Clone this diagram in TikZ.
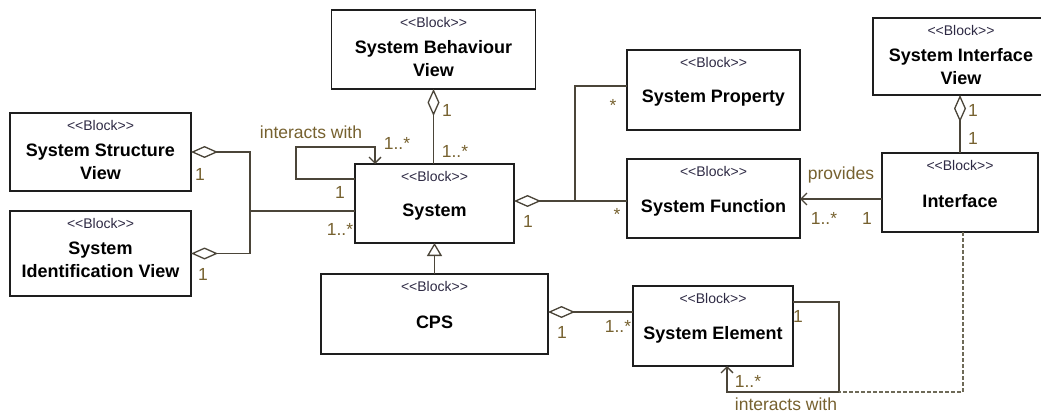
\documentclass[tikz,border=0pt]{standalone}
\usepackage{fontspec}
\setmainfont{Liberation Sans}
\usetikzlibrary{arrows.meta}
\definecolor{linec}{HTML}{4B4539}
\definecolor{dashc}{HTML}{6E6A58}
\definecolor{labc}{HTML}{76612F}
\definecolor{framec}{HTML}{1E1E1E}
\definecolor{stereoc}{HTML}{2E2A44}

\tikzset{
  blockframe/.style={draw=framec, line width=1.5pt, fill=white, inner sep=0pt, outer sep=0pt},
  stereo/.style={font=\fontsize{14}{16}\selectfont, text=stereoc, inner sep=0pt},
  blocktitle/.style={font=\bfseries\fontsize{18}{23}\selectfont, align=center, inner sep=0pt},
  lab/.style={font=\fontsize{17.5}{20}\selectfont, text=labc, inner sep=0pt, anchor=base},
  conn/.style={draw=linec, line width=1.3pt},
  agg/.style={conn, arrows={Diamond[open,length=27pt,width=12pt]-}},
  aggboth/.style={conn, arrows={Diamond[open,length=27pt,width=12pt]-Diamond[open,length=27pt,width=12pt]}},
  nav/.style={conn, arrows={-Straight Barb[length=6pt,width=12pt]}},
  gen/.style={conn, arrows={-Triangle[open,length=13pt,width=15pt]}},
  dep/.style={draw=dashc, line width=1.3pt, dash pattern=on 4pt off 2pt},
}

% name, centre, width, height, title
\newcommand\umlblock[5]{%
  \node[blockframe, minimum width=#3, minimum height=#4] (#1) at (#2) {};
  \node[stereo] (#1-st) at ([yshift=-12pt]#1.north) {<\kern0pt<Block>\kern0pt>};
  \node[blocktitle] (#1-t) at ([yshift=-48.5pt]#1.north) {#5};
}

\begin{document}
\begin{tikzpicture}[x=1pt, y=-1pt]
\useasboundingbox (0,0) rectangle (1041,414);

% blocks
\umlblock{beh}{433.5,49.5}{204pt}{79pt}{System Behaviour\\View}
\umlblock{prop}{713.5,90}{173pt}{80pt}{System Property}
\umlblock{iview}{961,56.5}{176pt}{77pt}{System Interface\\View}
\umlblock{sview}{100.5,152}{181pt}{78pt}{System Structure\\View}
\umlblock{idview}{100.5,253.5}{181pt}{85pt}{System\\Identification View}
\umlblock{sys}{434.5,203.5}{159pt}{79pt}{System}
\umlblock{func}{713.5,198.5}{173pt}{79pt}{System Function}
\umlblock{iface}{960,192.5}{156pt}{79pt}{Interface}
\umlblock{cps}{434.5,314}{227pt}{80pt}{CPS}
\umlblock{elem}{713,326}{160pt}{80pt}{System Element}

% behaviour view aggregates system
\draw[agg] (beh.south) -- (beh.south |- sys.north);

% system interacts with itself
\coordinate (sysloop) at ([yshift=-15pt]sys.north west);
\draw[nav] (sysloop) -- ++(-59,0) -- ++(0,-32) -| ([xshift=-59.5pt]sys.north);

% structure and identification views
\coordinate (viewbus) at ([xshift=59pt]sview.east);
\draw[aggboth] (sview.east) -- (viewbus) |- (idview.east);
\coordinate (sysin) at ([yshift=-7.5pt]sys.west);
\draw[conn] (sysin) -- (sysin -| viewbus);

% system owns functions and properties
\coordinate (sysout) at ([yshift=2.5pt]sys.east);
\draw[agg] (sysout) -- (sysout -| func.west);
\coordinate (fork) at ([xshift=61pt]sysout);
\coordinate (propin) at ([yshift=4pt]prop.west);
\draw[conn] (fork) |- (propin);

% interface provides functions
\coordinate (ifout) at ([yshift=-6.5pt]iface.west);
\draw[nav] (ifout) -- (ifout -| func.east);

% interface view aggregates interface
\draw[agg] (iface.north |- iview.south) -- (iface.north);

% CPS is a system
\draw[gen] (cps.north) -- (sys.south);

% CPS aggregates system elements
\coordinate (cpsout) at ([yshift=2pt]cps.east);
\draw[agg] (cpsout) -- (cpsout -| elem.west);

% system elements interact
\coordinate (elemout) at ([yshift=-16pt]elem.north east);
\coordinate (loopcorner) at ([xshift=46pt, yshift=-90pt]elemout);
\draw[nav] (elemout) -- (elemout -| loopcorner) -- (loopcorner) -| ([xshift=14pt]elem.south);
\draw[dep] ([xshift=3pt]iface.south) |- (loopcorner);

% multiplicities and role labels
\node[lab] (m1) at (447,117) {1};
\node[lab] (m2) at (455,158) {1..*};
\node[lab] (l1) at (311,139) {interacts with};
\node[lab] (m3) at (397,150) {1..*};
\node[lab] (m4) at (340,199) {1};
\node[lab] (m5) at (200,181) {1};
\node[lab] (m6) at (203,280) {1};
\node[lab] (m7) at (340,235) {1..*};
\node[lab] (m8) at (528,227) {1};
\node[lab] (m9) at (617,221) {*};
\node[lab] (m10) at (613,112) {*};
\node[lab] (l2) at (841,180) {provides};
\node[lab] (m11) at (824,225) {1..*};
\node[lab] (m12) at (867,225) {1};
\node[lab] (m13) at (973,117) {1};
\node[lab] (m14) at (973,145) {1};
\node[lab] (m15) at (562,338) {1};
\node[lab] (m16) at (618,332) {1..*};
\node[lab] (m17) at (798,322) {1};
\node[lab] (m18) at (748,387) {1..*};
\node[lab] (l3) at (786,410) {interacts with};
\end{tikzpicture}
\end{document}
